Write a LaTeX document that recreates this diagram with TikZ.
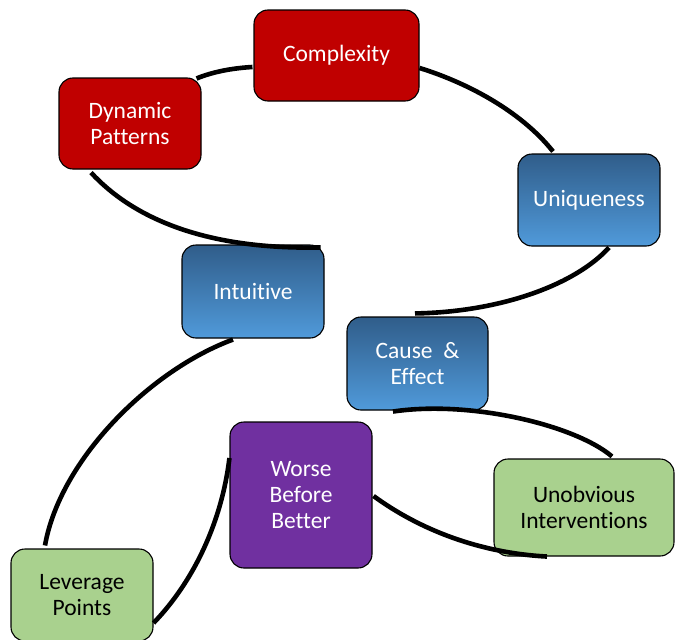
\documentclass[tikz,border=0pt]{standalone}
\usepackage{fontspec}
\setmainfont{Carlito}[Ligatures={NoCommon}]
\begin{document}
\begin{tikzpicture}[x=1pt,y=-1pt,
  box/.style={draw=black,line width=1.1pt,rounded corners=14pt,align=center,
    inner sep=0pt,font=\fontsize{23.5}{26}\selectfont},
  redbox/.style={box,fill={rgb,255:red,192;green,0;blue,0},text=white},
  bluebox/.style={box,top color={rgb,255:red,48;green,93;blue,138},
    bottom color={rgb,255:red,80;green,154;blue,218},text=white},
  purplebox/.style={box,fill={rgb,255:red,112;green,48;blue,160},text=white},
  greenbox/.style={box,fill={rgb,255:red,169;green,209;blue,142},text=black},
  link/.style={line width=4.6pt}]
\useasboundingbox (0,0) rectangle (675,640);
\fill[white] (0,0) rectangle (675,640);

% boxes
\node[redbox,minimum width=165pt,minimum height=91pt] (cx) at (336.5,55.5) {Complexity};
\node[redbox,minimum width=142pt,minimum height=91pt] (dp) at (130,123.5) {Dynamic\\Patterns};
\node[bluebox,minimum width=142pt,minimum height=92pt] (un) at (589,200) {Uniqueness};
\node[bluebox,minimum width=141pt,minimum height=93pt] (ce) at (417.5,363.5) {Cause\ \ \&\\Effect};
\node[bluebox,minimum width=142pt,minimum height=93pt] (it) at (253,291.5) {Intuitive};
\node[purplebox,minimum width=142pt,minimum height=146pt] (wb) at (301,495) {Worse\\Before\\Better};
\node[greenbox,minimum width=142pt,minimum height=92pt] (lp) at (82,595) {Leverage\\Points};
\node[greenbox,minimum width=180pt,minimum height=97pt] (uo) at (584,507.5) {Unobvious\\Interventions};

% connecting arcs
\draw[link] ([shift={(-5,1)}]dp.north east) .. controls (215,71) and (235,68) .. ([shift={(-1,11.5)}]cx.west);
\draw[link] ([shift={(0,12.5)}]cx.east) .. controls (465,82) and (520,110) .. ([shift={(-36,-2)}]un.north);
\draw[link] ([shift={(20,1)}]un.south) .. controls (575,285) and (500,312) .. ([shift={(-2.5,-3)}]ce.north);
\draw[link] ([shift={(-24.5,1)}]ce.south) .. controls (470,400) and (575,425) .. ([shift={(28,-2)}]uo.north);
\draw[link] ([shift={(1,1)}]wb.east) .. controls (420,530) and (480,553) .. ([shift={(-37,0)}]uo.south);
\draw[link] ([shift={(0,-37)}]wb.west) .. controls (222,520) and (195,580) .. ([shift={(0,28)}]lp.east);
\draw[link] ([shift={(-20,1)}]it.south) .. controls (150,370) and (60,460) .. ([shift={(-37,-3)}]lp.north);
\draw[link] ([shift={(-39,3)}]dp.south) .. controls (130,215) and (200,250) .. ([shift={(-4,3)}]it.north east);
\end{tikzpicture}
\end{document}
